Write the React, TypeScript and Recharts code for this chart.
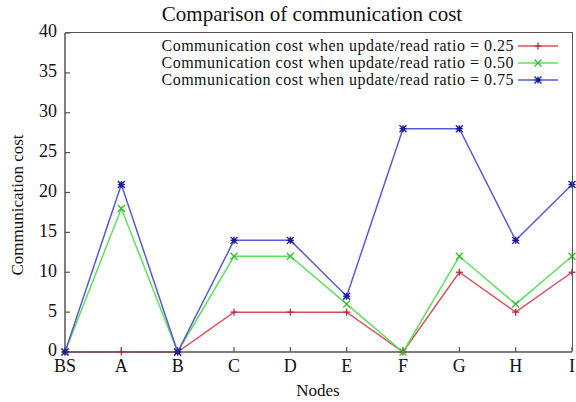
import React from 'react';
import { LineChart, Line, XAxis, YAxis, Legend } from 'recharts';

const nodes = ['BS', 'A', 'B', 'C', 'D', 'E', 'F', 'G', 'H', 'I'];
const ratio025 = [0, 0, 0, 5, 5, 5, 0, 10, 5, 10];
const ratio050 = [0, 18, 0, 12, 12, 6, 0, 12, 6, 12];
const ratio075 = [0, 21, 0, 14, 14, 7, 28, 28, 14, 21];
const yTicks = [0, 5, 10, 15, 20, 25, 30, 35, 40];

const seriesInfo = [
  { key: 'r25', label: 'Communication cost when update/read ratio = 0.25', line: '#d8505f', mark: '#c02838', shape: 'plus' },
  { key: 'r50', label: 'Communication cost when update/read ratio = 0.50', line: '#5ee05e', mark: '#2cc02c', shape: 'cross' },
  { key: 'r75', label: 'Communication cost when update/read ratio = 0.75', line: '#5a5ad0', mark: '#1c1ca0', shape: 'star' },
];

const data = nodes.map((n, i) => ({ node: n, r25: ratio025[i], r50: ratio050[i], r75: ratio075[i] }));

const FONT = '"Liberation Serif", "Times New Roman", Times, serif';
const AXIS = '#555';

const CHART_W = 576;
const CHART_H = 402;
const MARGIN = { top: 33, right: 4, left: 0, bottom: 0 };
const Y_AXIS_W = 65;
const X_AXIS_H = 50;

function Marker({ cx, cy, color, shape }: any) {
  if (cx == null || cy == null) return null;
  const s = 3.5;
  const plus = (
    <g key="p">
      <line x1={cx - s} y1={cy} x2={cx + s} y2={cy} stroke={color} strokeWidth={1.3} />
      <line x1={cx} y1={cy - s} x2={cx} y2={cy + s} stroke={color} strokeWidth={1.3} />
    </g>
  );
  const cross = (
    <g key="c">
      <line x1={cx - s} y1={cy - s} x2={cx + s} y2={cy + s} stroke={color} strokeWidth={1.3} />
      <line x1={cx - s} y1={cy + s} x2={cx + s} y2={cy - s} stroke={color} strokeWidth={1.3} />
    </g>
  );
  if (shape === 'plus') return <g>{plus}</g>;
  if (shape === 'cross') return <g>{cross}</g>;
  return (
    <g>
      {plus}
      {cross}
      <rect x={cx - 2} y={cy - 2} width={4} height={4} fill={color} />
    </g>
  );
}

function LegendContent() {
  return (
    <div style={{ fontFamily: FONT, fontSize: 16, letterSpacing: '0.5px', color: '#111', lineHeight: '17px' }}>
      {seriesInfo.map((s) => (
        <div key={s.key} style={{ display: 'flex', justifyContent: 'flex-end', alignItems: 'center', height: 17 }}>
          <span style={{ whiteSpace: 'nowrap' }}>{s.label}</span>
          <svg width={44} height={14} style={{ marginLeft: 2 }}>
            <line x1={2} y1={7} x2={42} y2={7} stroke={s.line} strokeWidth={1.5} />
            <Marker cx={22} cy={7} color={s.mark} shape={s.shape} />
          </svg>
        </div>
      ))}
    </div>
  );
}

export default function App() {
  const plotLeft = MARGIN.left + Y_AXIS_W;
  const plotTop = MARGIN.top;
  const plotW = CHART_W - MARGIN.right - plotLeft;
  const plotH = CHART_H - MARGIN.bottom - X_AXIS_H - plotTop;
  return (
    <div style={{ position: 'absolute', left: 0, top: 0, width: CHART_W, height: CHART_H, background: '#fff' }}>
      <LineChart
        width={CHART_W}
        height={CHART_H}
        data={data}
        margin={MARGIN}
        style={{ fontFamily: FONT }}
      >
        <text x={312} y={21} textAnchor="middle" fontSize={21} fontFamily={FONT} fill="#111">
          Comparison of communication cost
        </text>
        <text
          x={0}
          y={0}
          transform="translate(23, 205) rotate(-90)"
          textAnchor="middle"
          fontSize={17}
          fontFamily={FONT}
          fill="#111"
        >
          Communication cost
        </text>
        <text x={318} y={396} textAnchor="middle" fontSize={17} fontFamily={FONT} fill="#111">
          Nodes
        </text>
        <XAxis
          dataKey="node"
          scale="point"
          padding={{ left: 0, right: 0 }}
          height={X_AXIS_H}
          tickSize={-5}
          tickMargin={12}
          interval={0}
          tick={{ fill: '#111', fontSize: 18, fontFamily: FONT }}
          axisLine={{ stroke: AXIS, strokeWidth: 1.5 }}
          tickLine={{ stroke: AXIS, strokeWidth: 1.2 }}
        />
        <YAxis
          domain={[0, 40]}
          ticks={yTicks}
          width={Y_AXIS_W}
          tickSize={-5}
          tickMargin={13}
          interval={0}
          tick={{ fill: '#111', fontSize: 18, fontFamily: FONT, dy: -2 }}
          axisLine={{ stroke: AXIS, strokeWidth: 1.5 }}
          tickLine={{ stroke: AXIS, strokeWidth: 1.2 }}
        />
        <Legend
          layout="vertical"
          align="center"
          verticalAlign="middle"
          content={<LegendContent />}
          wrapperStyle={{ top: 37, left: 150, width: 410, right: 'auto', bottom: 'auto' }}
        />
        {seriesInfo.map((s) => (
          <Line
            key={s.key}
            type="linear"
            dataKey={s.key}
            stroke={s.line}
            strokeWidth={1.5}
            isAnimationActive={false}
            dot={(p: any) => <Marker key={`${s.key}-${p.index}`} cx={p.cx} cy={p.cy} color={s.mark} shape={s.shape} />}
            activeDot={false}
          />
        ))}
      </LineChart>
      <div
        style={{
          position: 'absolute',
          left: plotLeft,
          top: plotTop - 0.75,
          width: plotW + 0.75,
          height: plotH,
          borderTop: `1.5px solid ${AXIS}`,
          borderRight: `1.5px solid ${AXIS}`,
          boxSizing: 'border-box',
          pointerEvents: 'none',
        }}
      />
    </div>
  );
}
